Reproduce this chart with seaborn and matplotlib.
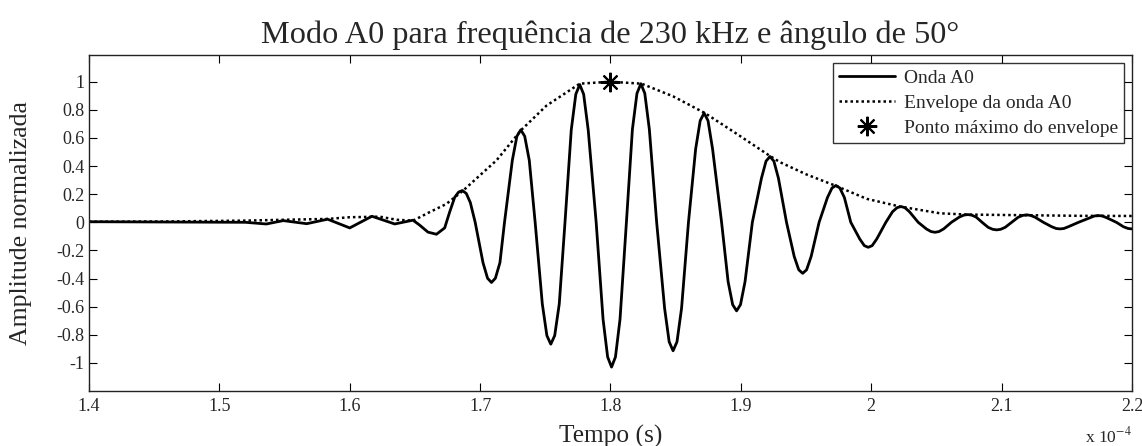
import matplotlib
matplotlib.use("Agg")
import matplotlib.pyplot as plt
import seaborn as sns
import pandas as pd

# Time axis in units of 1e-4 s
wave_t = [1.400, 1.520, 1.536, 1.549, 1.567, 1.583, 1.600, 1.617, 1.6345, 1.6485,
          1.6536, 1.6600, 1.6665, 1.6728, 1.6767, 1.6805, 1.6835, 1.6864, 1.6894,
          1.6925, 1.6962,
          1.7022, 1.7057, 1.7087, 1.7117, 1.7152, 1.7187,
          1.7247, 1.7282, 1.7312, 1.7342, 1.7377, 1.7422,
          1.7477, 1.7512, 1.7542, 1.7572, 1.7607, 1.7651,
          1.7699, 1.7734, 1.7764, 1.7794, 1.7829, 1.7890,
          1.7943, 1.7978, 1.8008, 1.8038, 1.8073, 1.8122,
          1.8168, 1.8203, 1.8233, 1.8263, 1.8298, 1.8354,
          1.8415, 1.8450, 1.8480, 1.8510, 1.8545, 1.8598,
          1.8653, 1.8688, 1.8718, 1.8748, 1.8783, 1.8852,
          1.8902, 1.8937, 1.8967, 1.8997, 1.9032, 1.9088,
          1.9158, 1.9193, 1.9223, 1.9253, 1.9288, 1.9350,
          1.9409, 1.9444, 1.9474, 1.9504, 1.9539, 1.9600,
          1.9664, 1.9699, 1.9729, 1.9759, 1.9794, 1.9843,
          1.9912, 1.9947, 1.9977, 2.0007, 2.0042, 2.0112,
          2.0163, 2.0198, 2.0228, 2.0258, 2.0293, 2.0360,
          2.0424, 2.0459, 2.0489, 2.0519, 2.0554, 2.0615,
          2.0675, 2.0710, 2.0740, 2.0770, 2.0805, 2.0850,
          2.0897, 2.0932, 2.0962, 2.0992, 2.1027, 2.1077,
          2.1127, 2.1162, 2.1192, 2.1222, 2.1257, 2.1320,
          2.1383, 2.1418, 2.1448, 2.1478, 2.1513, 2.1590,
          2.1677, 2.1712, 2.1742, 2.1772, 2.1807, 2.1880,
          2.1935, 2.1970, 2.2000]
wave_y = [0.004, 0.000, -0.012, 0.012, -0.010, 0.022, -0.040, 0.043, -0.012, 0.015,
          -0.020, -0.070, -0.085, -0.040, 0.075, 0.178, 0.215, 0.226, 0.205,
          0.140, 0.000,
          -0.287, -0.398, -0.428, -0.398, -0.287, 0.000,
          0.441, 0.612, 0.658, 0.612, 0.441, 0.000,
          -0.581, -0.806, -0.867, -0.806, -0.581, 0.000,
          0.657, 0.911, 0.980, 0.911, 0.657, 0.000,
          -0.690, -0.958, -1.030, -0.958, -0.690, 0.000,
          0.661, 0.917, 0.986, 0.917, 0.661, 0.000,
          -0.612, -0.850, -0.914, -0.850, -0.612, 0.000,
          0.521, 0.723, 0.777, 0.723, 0.521, 0.000,
          -0.422, -0.586, -0.630, -0.586, -0.422, 0.000,
          0.314, 0.435, 0.468, 0.435, 0.314, 0.000,
          -0.243, -0.338, -0.363, -0.338, -0.243, 0.000,
          0.176, 0.244, 0.262, 0.244, 0.176, 0.000,
          -0.119, -0.166, -0.178, -0.166, -0.119, 0.000,
          0.075, 0.104, 0.112, 0.104, 0.075, 0.000,
          -0.048, -0.066, -0.071, -0.066, -0.048, 0.000,
          0.037, 0.051, 0.055, 0.051, 0.037, 0.000,
          -0.036, -0.050, -0.054, -0.050, -0.036, 0.000,
          0.036, 0.049, 0.053, 0.049, 0.036, 0.000,
          -0.031, -0.044, -0.047, -0.044, -0.031, 0.000,
          0.032, 0.045, 0.048, 0.045, 0.032, 0.000,
          -0.032, -0.044, -0.047]

env_t = [1.400, 1.460, 1.520, 1.550, 1.583, 1.600, 1.623, 1.636, 1.6486, 1.661,
         1.674, 1.687, 1.6997, 1.7125, 1.7317, 1.7509, 1.7764, 1.800, 1.8238,
         1.848, 1.8724, 1.8967, 1.9218, 1.9299, 1.9504, 1.9721, 1.9965, 2.022,
         2.0527, 2.0732, 2.1218, 2.160, 2.200]
env_y = [0.004, 0.006, 0.012, 0.018, 0.024, 0.036, 0.040, 0.018, 0.012, 0.071,
         0.130, 0.226, 0.333, 0.440, 0.658, 0.830, 0.986, 1.000, 0.986,
         0.896, 0.777, 0.630, 0.475, 0.428, 0.340, 0.262, 0.167, 0.112,
         0.064, 0.055, 0.050, 0.046, 0.045]

peak_t = [1.800]
peak_y = [1.000]

x_ticks = [1.4, 1.5, 1.6, 1.7, 1.8, 1.9, 2.0, 2.1, 2.2]
y_ticks = [-1, -0.8, -0.6, -0.4, -0.2, 0, 0.2, 0.4, 0.6, 0.8, 1]

sns.set_style("ticks")
plt.rcParams["font.family"] = ["Liberation Serif", "DejaVu Serif"]
plt.rcParams["mathtext.fontset"] = "stix"
plt.rcParams["axes.unicode_minus"] = False

fig = plt.figure(figsize=(11.42, 4.46), dpi=100)
ax = fig.add_axes([89 / 1142, 1 - 391 / 446, (1132 - 89) / 1142, (391 - 55) / 446])

wave_df = pd.DataFrame({"t": wave_t, "y": wave_y})
env_df = pd.DataFrame({"t": env_t, "y": env_y})

sns.lineplot(data=wave_df, x="t", y="y", ax=ax, color="black", lw=2.0,
             label="Onda A0", sort=False)
sns.lineplot(data=env_df, x="t", y="y", ax=ax, color="black", lw=1.8,
             linestyle=(0, (1, 1.2)), label="Envelope da onda A0", sort=False)
ax.plot(peak_t, peak_y, linestyle="none", marker=(8, 2, 0), markersize=14,
        markeredgewidth=1.5, color="black", label="Ponto máximo do envelope")

ax.set_xlim(1.4, 2.2)
ax.set_ylim(-1.2, 1.19)
ax.set_xticks(x_ticks)
ax.set_xticklabels([f"{v:g}" for v in x_ticks])
ax.set_yticks(y_ticks)
ax.set_yticklabels([f"{v:g}" for v in y_ticks])
ax.tick_params(direction="in", length=6, width=0.8, top=True, right=True,
               labelsize=13, color="black")
ax.tick_params(axis="x", pad=5)
ax.tick_params(axis="y", pad=3.5)
for s in ax.spines.values():
    s.set_linewidth(1.0)
    s.set_color("#222222")

ax.set_title("Modo A0 para frequência de 230 kHz e ângulo de 50°", fontsize=23.2, pad=9)
ax.set_xlabel("Tempo (s)", fontsize=18.3, labelpad=7)
ax.set_ylabel("Amplitude normalizada", fontsize=18.5)
ax.yaxis.set_label_coords(-0.0545, 0.5)
ax.text(1.0, -0.135, r"x 10$^{-4}$", transform=ax.transAxes, ha="right",
        va="center", fontsize=12.5)

leg = ax.legend(loc="upper right", fontsize=14, frameon=True, fancybox=False,
                handlelength=2.9, handletextpad=0.45, borderpad=0.3,
                labelspacing=0.4, bbox_to_anchor=(0.9925, 0.976),
                borderaxespad=0.0)
leg.get_frame().set_edgecolor("black")
leg.get_frame().set_linewidth(1.0)

fig.savefig("out.png", dpi=100)
